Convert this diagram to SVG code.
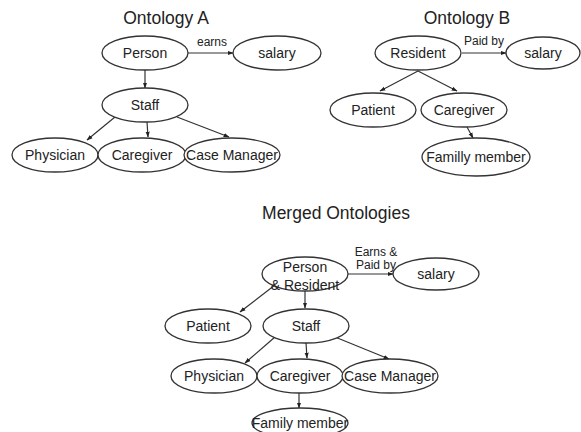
<svg xmlns="http://www.w3.org/2000/svg" width="581" height="432" viewBox="0 0 581 432">
<style>
.n ellipse{fill:#fff;stroke:#333;stroke-width:1.3}
text{font-family:"Liberation Sans",Arial,sans-serif;fill:#222}
.l{font-size:14px;text-anchor:middle}
.t{font-size:17.5px;text-anchor:middle}
.e{font-size:12px;text-anchor:middle}
#conn line{stroke:#333;stroke-width:1.2;marker-end:url(#ah)}
</style>
<defs>
<marker id="ah" viewBox="0 0 10 10" refX="9" refY="5" markerWidth="6" markerHeight="6" orient="auto" markerUnits="userSpaceOnUse">
<path d="M0,1.5 L10,5 L0,8.5 z" fill="#222"/>
</marker>
</defs>
<rect width="581" height="432" fill="#fff"/>
<text class="t" x="166" y="24">Ontology A</text>
<text class="t" x="467" y="24">Ontology B</text>
<text class="t" x="336" y="219">Merged Ontologies</text>

<g id="conn">
<line x1="188" y1="53" x2="233" y2="53"/>
<line x1="145" y1="70" x2="145" y2="88"/>
<line x1="115" y1="117" x2="87" y2="140"/>
<line x1="147" y1="122" x2="148" y2="137"/>
<line x1="177" y1="117" x2="229" y2="137"/>
<line x1="462" y1="53" x2="506" y2="53"/>
<line x1="418" y1="71" x2="380" y2="91"/>
<line x1="418" y1="71" x2="457" y2="91"/>
<line x1="467" y1="127" x2="473" y2="138"/>
<line x1="348" y1="274" x2="393" y2="274"/>
<line x1="305" y1="291" x2="305" y2="308"/>
<line x1="275" y1="285" x2="240" y2="312"/>
<line x1="275" y1="337" x2="245" y2="363"/>
<line x1="306" y1="343" x2="307" y2="358"/>
<line x1="335" y1="337" x2="389" y2="359"/>
<line x1="299" y1="393" x2="299" y2="408"/>
</g>
<text class="e" x="212" y="46">earns</text>
<text class="e" x="484" y="45">Paid by</text>
<text class="e" x="376" y="256">Earns &amp;</text>
<text class="e" x="376" y="269">Paid by</text>

<g id="a-person" class="n"><ellipse cx="145" cy="53" rx="43" ry="17"/><text class="l" x="145" y="58">Person</text></g>
<g id="a-salary" class="n"><ellipse cx="277" cy="53" rx="44" ry="17"/><text class="l" x="277" y="58">salary</text></g>
<g id="a-staff" class="n"><ellipse cx="145" cy="105" rx="43" ry="17"/><text class="l" x="145" y="110">Staff</text></g>
<g id="a-physician" class="n"><ellipse cx="55" cy="155" rx="43" ry="17"/><text class="l" x="55" y="160">Physician</text></g>
<g id="a-caregiver" class="n"><ellipse cx="142" cy="155" rx="44" ry="17"/><text class="l" x="142" y="160">Caregiver</text></g>
<g id="a-casemanager" class="n"><ellipse cx="232" cy="155" rx="48" ry="17"/><text class="l" x="232" y="160">Case Manager</text></g>

<g id="b-resident" class="n"><ellipse cx="418" cy="53" rx="43" ry="17"/><text class="l" x="418" y="58">Resident</text></g>
<g id="b-salary" class="n"><ellipse cx="543" cy="53" rx="37" ry="16"/><text class="l" x="543" y="58">salary</text></g>
<g id="b-patient" class="n"><ellipse cx="373" cy="110" rx="43" ry="17"/><text class="l" x="373" y="115">Patient</text></g>
<g id="b-caregiver" class="n"><ellipse cx="464" cy="110" rx="43" ry="17"/><text class="l" x="464" y="115">Caregiver</text></g>
<g id="b-familymember" class="n"><ellipse cx="476" cy="157" rx="54" ry="19"/><text class="l" x="476" y="162">Familly member</text></g>

<g id="m-personresident" class="n"><ellipse cx="305" cy="274" rx="43" ry="17"/><text class="l" x="305" y="272">Person</text><text class="l" x="305" y="290">&amp; Resident</text></g>
<g id="m-salary" class="n"><ellipse cx="436" cy="274" rx="43" ry="16"/><text class="l" x="436" y="279">salary</text></g>
<g id="m-patient" class="n"><ellipse cx="208" cy="326" rx="43" ry="17"/><text class="l" x="208" y="331">Patient</text></g>
<g id="m-staff" class="n"><ellipse cx="306" cy="326" rx="43" ry="17"/><text class="l" x="306" y="331">Staff</text></g>
<g id="m-physician" class="n"><ellipse cx="214" cy="376" rx="43" ry="17"/><text class="l" x="214" y="381">Physician</text></g>
<g id="m-caregiver" class="n"><ellipse cx="300" cy="376" rx="43" ry="17"/><text class="l" x="300" y="381">Caregiver</text></g>
<g id="m-casemanager" class="n"><ellipse cx="390" cy="376" rx="48" ry="17"/><text class="l" x="390" y="381">Case Manager</text></g>
<g id="m-familymember" class="n"><ellipse cx="300" cy="423" rx="48" ry="15"/><text class="l" x="300" y="428">Family member</text></g>
</svg>
